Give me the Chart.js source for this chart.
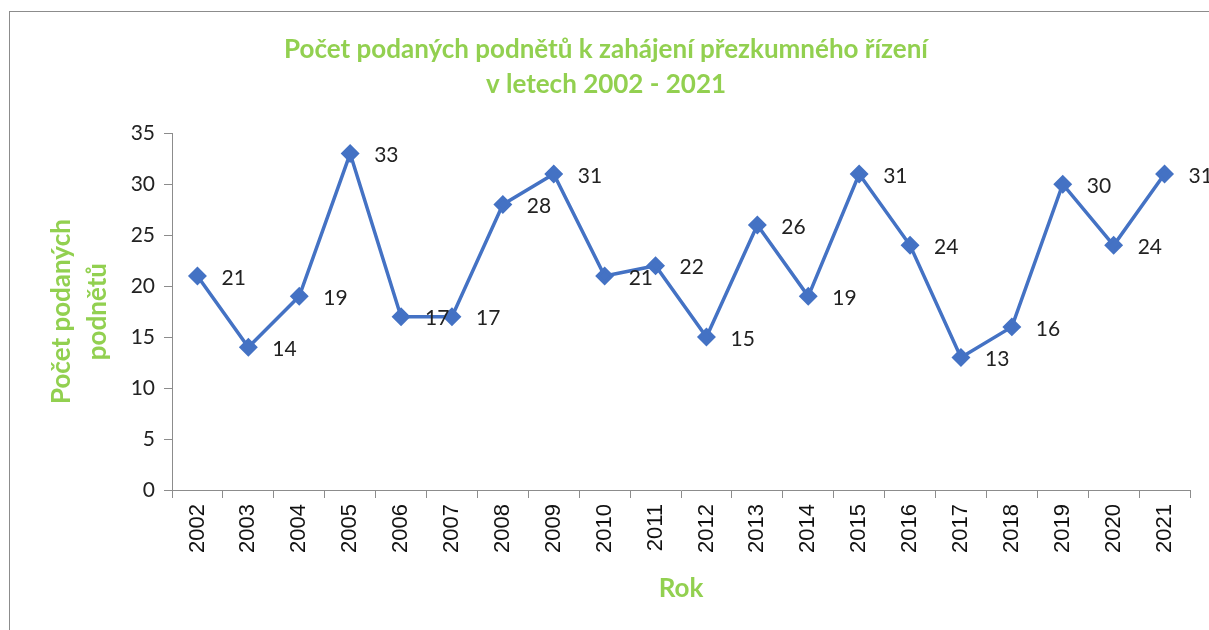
<!DOCTYPE html>
<html>
<head>
<meta charset="utf-8">
<script src="https://cdn.jsdelivr.net/npm/chart.js@4.4.1/dist/chart.umd.min.js"></script>
<style>
  html, body { margin: 0; padding: 0; background: #fff; }
  #wrap { position: relative; width: 1209px; height: 630px; overflow: hidden; }
  #frame { position: absolute; left: 9px; top: 11px; right: -2px; bottom: -2px; border-top: 1px solid #8c8c8c; border-left: 1px solid #8c8c8c; }
  canvas { position: absolute; left: 0; top: 0; }
</style>
</head>
<body>
<div id="wrap">
  <div id="frame"></div>
  <canvas id="podnetyChart" width="1209" height="630"></canvas>
</div>
<script>
// data
const years = ['2002', '2003', '2004', '2005', '2006', '2007', '2008', '2009', '2010', '2011',
               '2012', '2013', '2014', '2015', '2016', '2017', '2018', '2019', '2020', '2021'];
const podnety = [21, 14, 19, 33, 17, 17, 28, 31, 21, 22, 15, 26, 19, 31, 24, 13, 16, 30, 24, 31];
const titleLines = ['Počet podaných podnětů k zahájení přezkumného řízení', 'v letech 2002 - 2021'];
const yTitleLines = ['Počet podaných', 'podnětů'];
const xTitle = 'Rok';

const green = '#92D050';
const blue = '#4472C4';
const axisGrey = '#8c8c8c';

// value labels to the right of each point
const valueLabels = {
  id: 'valueLabels',
  afterDatasetsDraw(chart) {
    const ctx = chart.ctx;
    const meta = chart.getDatasetMeta(0);
    ctx.save();
    ctx.font = '21px Lato';
    ctx.fillStyle = '#222';
    ctx.textAlign = 'left';
    ctx.textBaseline = 'middle';
    meta.data.forEach((pt, i) => {
      ctx.fillText(String(podnety[i]), pt.x + 24, pt.y + 2);
    });
    ctx.restore();
  }
};

new Chart(document.getElementById('podnetyChart'), {
  type: 'line',
  data: {
    labels: years,
    datasets: [{
      data: podnety,
      borderColor: blue,
      backgroundColor: blue,
      borderWidth: 3.5,
      pointStyle: 'rectRot',
      pointRadius: 7,
      pointBackgroundColor: blue,
      pointBorderColor: blue,
      tension: 0
    }]
  },
  options: {
    responsive: false,
    animation: false,
    layout: { padding: { left: 22, right: 19, top: 0, bottom: 0 } },
    plugins: {
      legend: { display: false },
      tooltip: { enabled: false },
      title: {
        display: true,
        text: titleLines,
        color: green,
        font: { family: 'Lato', size: 26, weight: 'bold', lineHeight: 1.35 },
        padding: { top: 32, bottom: 31 }
      }
    },
    scales: {
      x: {
        offset: true,
        grid: { display: true, offset: true, drawOnChartArea: false, drawTicks: true, tickLength: 8, color: axisGrey },
        border: { display: true, color: axisGrey, width: 1 },
        ticks: {
          color: '#111',
          font: { family: 'Liberation Sans', size: 22 },
          minRotation: 90,
          maxRotation: 90,
          padding: 6,
          autoSkip: false
        },
        title: {
          display: true,
          text: xTitle,
          color: green,
          font: { family: 'Lato', size: 26, weight: 'bold', lineHeight: 1.2 },
          padding: { top: 0, bottom: 26 }
        },
        afterFit(scale) { scale.height = 140; }
      },
      y: {
        min: 0,
        max: 35,
        ticks: {
          stepSize: 5,
          color: '#222',
          font: { family: 'Lato', size: 21 },
          padding: 9
        },
        grid: { display: true, drawOnChartArea: false, drawTicks: true, tickLength: 8, color: axisGrey },
        border: { display: true, color: axisGrey, width: 1 },
        title: {
          display: true,
          text: yTitleLines,
          color: green,
          font: { family: 'Lato', size: 26, weight: 'bold', lineHeight: 1.38 },
          padding: { top: 22, bottom: 0 }
        },
        afterFit(scale) { scale.width = 150; }
      }
    }
  },
  plugins: [valueLabels]
});
</script>
</body>
</html>
